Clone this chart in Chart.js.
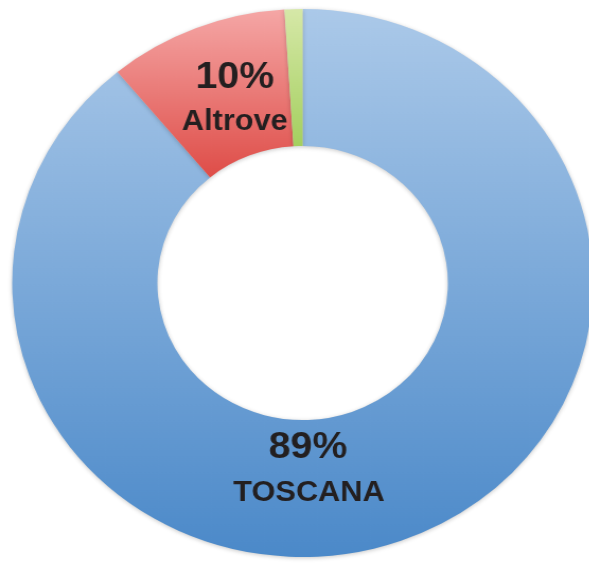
<!DOCTYPE html>
<html>
<head>
<meta charset="utf-8">
<script src="https://cdn.jsdelivr.net/npm/chart.js@4"></script>
<style>
    html, body { margin: 0; padding: 0; background: #fff; overflow: hidden; }
    /* the original picture is a little wider than tall, so stretch the canvas */
    #wrap { width: 589px; height: 563px; overflow: hidden; }
    #stretch { transform: scaleX(1.06); transform-origin: 0 0; width: 571px; }
    canvas { display: block; }
</style>
</head>
<body>
<div id="wrap"><div id="stretch"><canvas id="donut" width="571" height="563"></canvas></div></div>
<script>
// ── DATA ──────────────────────────────────────────────────────────────────────
const labels   = ['TOSCANA', 'Altrove', ''];
const values   = [89, 10, 1];
const pctText  = ['89%', '10%', ''];

// top / bottom colour of each slice gradient
const topColors    = ['#abc9e9', '#f5a7a6', '#d6e8a8'];
const bottomColors = ['#4b89c9', '#df4f4a', '#a2ce5c'];
// how far down the chart each slice's gradient reaches (fraction of height)
const gradSpan     = [1.0, 0.3, 0.26];

// ── LABEL PLUGIN ──────────────────────────────────────────────────────────────
const sliceLabels = {
    id: 'sliceLabels',
    afterDatasetsDraw(chart) {
        const ctx = chart.ctx;
        const arcs = chart.getDatasetMeta(0).data;
        const c = arcs[0];
        const cx = c.x, cy = c.y, R = c.outerRadius;
        ctx.save();
        ctx.fillStyle = '#231f20';
        ctx.textAlign = 'center';
        ctx.textBaseline = 'middle';

        // TOSCANA: straight below the hole
        ctx.font = 'bold 37px "Liberation Sans", Arial, sans-serif';
        ctx.fillText(pctText[0], cx + 5, cy + R * 0.60);
        ctx.font = 'bold 29px "Liberation Sans", Arial, sans-serif';
        ctx.fillText(labels[0], cx + 6, cy + R * 0.765);

        // Altrove: inside the red slice
        ctx.font = 'bold 37px "Liberation Sans", Arial, sans-serif';
        ctx.fillText(pctText[1], cx - 64, cy - R * 0.75);
        ctx.font = 'bold 29px "Liberation Sans", Arial, sans-serif';
        ctx.fillText(labels[1], cx - 64, cy - R * 0.588);
        ctx.restore();
    }
};

// soft shadow around the ring
const ringShadow = {
    id: 'ringShadow',
    beforeDatasetsDraw(chart) {
        const ctx = chart.ctx;
        ctx.save();
        ctx.shadowColor = 'rgba(0,0,0,0.22)';
        ctx.shadowBlur = 4;
        ctx.shadowOffsetY = 1;
    },
    afterDatasetsDraw(chart) {
        chart.ctx.restore();
    }
};

// ── CHART ─────────────────────────────────────────────────────────────────────
function sliceGradient(context) {
    const chart = context.chart;
    const area = chart.chartArea;
    if (!area) return topColors[context.dataIndex];
    const i = context.dataIndex;
    const g = chart.ctx.createLinearGradient(0, area.top, 0, area.top + area.height * gradSpan[i]);
    g.addColorStop(0, topColors[i]);
    g.addColorStop(1, bottomColors[i]);
    return g;
}

new Chart(document.getElementById('donut'), {
    type: 'doughnut',
    data: {
        labels: labels,
        datasets: [{
            data: values,
            backgroundColor: sliceGradient,
            borderWidth: 0
        }]
    },
    options: {
        responsive: false,
        animation: false,
        cutout: '50%',
        layout: { padding: { top: 9, bottom: 6, left: 11, right: 11 } },
        plugins: {
            legend: { display: false },
            tooltip: { enabled: false }
        }
    },
    plugins: [ringShadow, sliceLabels]
});
</script>
</body>
</html>
